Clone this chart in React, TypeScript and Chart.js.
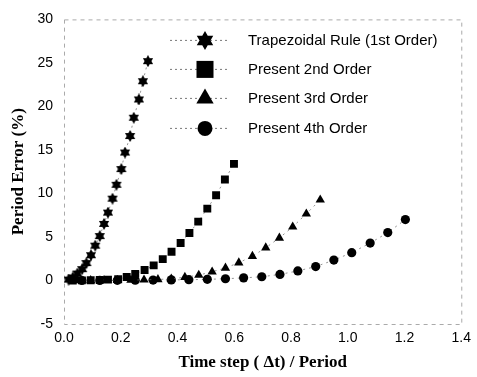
import React, { useEffect, useRef } from "react";
import { Chart, registerables } from "chart.js";

Chart.register(...registerables);

const seriesLabels = [
  "Trapezoidal Rule (1st Order)",
  "Present 2nd Order",
  "Present 3rd Order",
  "Present 4th Order",
];

const trapX = [0.016, 0.031, 0.047, 0.064, 0.079, 0.095, 0.110, 0.126, 0.141, 0.155, 0.171, 0.185, 0.202, 0.215, 0.233, 0.246, 0.264, 0.278, 0.296];
const trapY = [0.1, 0.35, 0.8, 1.3, 2.0, 2.9, 4.0, 5.1, 6.5, 7.8, 9.4, 11.0, 12.8, 14.7, 16.6, 18.7, 20.8, 22.9, 25.2];

const ord2X = [0.031, 0.063, 0.094, 0.126, 0.155, 0.191, 0.221, 0.251, 0.284, 0.316, 0.348, 0.379, 0.411, 0.442, 0.473, 0.505, 0.536, 0.567, 0.599];
const ord2Y = [0, 0.01, 0.02, 0.05, 0.1, 0.15, 0.4, 0.76, 1.2, 1.74, 2.45, 3.3, 4.3, 5.45, 6.76, 8.26, 9.8, 11.6, 13.4];

const ord3X = [0.047, 0.094, 0.141, 0.188, 0.236, 0.282, 0.331, 0.378, 0.426, 0.475, 0.522, 0.569, 0.616, 0.664, 0.711, 0.759, 0.806, 0.854, 0.903];
const ord3Y = [0, 0, 0.01, 0.02, 0.04, 0.08, 0.12, 0.18, 0.38, 0.62, 1.0, 1.44, 2.04, 2.79, 3.76, 4.89, 6.16, 7.66, 9.27];

const ord4X = [0.063, 0.126, 0.188, 0.251, 0.314, 0.378, 0.44, 0.505, 0.569, 0.633, 0.697, 0.761, 0.824, 0.887, 0.951, 1.014, 1.079, 1.141, 1.203];
const ord4Y = [0, 0.01, 0.02, 0.03, 0.05, 0.07, 0.09, 0.13, 0.2, 0.3, 0.43, 0.7, 1.1, 1.6, 2.34, 3.2, 4.3, 5.5, 7.0];

const xTitle = "Time step ( \u0394t) / Period";
const yTitle = "Period Error (%)";

function starPath(ctx: CanvasRenderingContext2D, cx: number, cy: number, R: number) {
  const r = R / Math.sqrt(3);
  ctx.beginPath();
  for (let i = 0; i < 12; i++) {
    const a = -Math.PI / 2 + (i * Math.PI) / 6;
    const rad = i % 2 === 0 ? R : r;
    const px = cx + rad * Math.cos(a);
    const py = cy + rad * Math.sin(a);
    if (i === 0) ctx.moveTo(px, py);
    else ctx.lineTo(px, py);
  }
  ctx.closePath();
}

function makeStar(size: number, R: number): HTMLCanvasElement {
  const c = document.createElement("canvas");
  c.width = size;
  c.height = size;
  const ctx = c.getContext("2d")!;
  ctx.fillStyle = "#000";
  starPath(ctx, size / 2, size / 2, R);
  ctx.fill();
  return c;
}

function drawMarker(ctx: CanvasRenderingContext2D, kind: number, x: number, y: number) {
  ctx.fillStyle = "#000";
  if (kind === 0) {
    starPath(ctx, x, y, 9.5);
    ctx.fill();
  } else if (kind === 1) {
    ctx.fillRect(x - 8.5, y - 8.5, 17, 17);
  } else if (kind === 2) {
    const r = 10;
    ctx.beginPath();
    ctx.moveTo(x, y - r);
    ctx.lineTo(x + r * 0.866, y + r * 0.5);
    ctx.lineTo(x - r * 0.866, y + r * 0.5);
    ctx.closePath();
    ctx.fill();
  } else {
    ctx.beginPath();
    ctx.arc(x, y, 7.5, 0, Math.PI * 2);
    ctx.fill();
  }
}

const framePlugin = {
  id: "frame",
  beforeDatasetsDraw(chart: any) {
    const { ctx, chartArea } = chart;
    ctx.save();
    ctx.strokeStyle = "#aaa";
    ctx.lineWidth = 1;
    ctx.setLineDash([4, 4]);
    ctx.strokeRect(chartArea.left + 0.5, chartArea.top + 0.5, chartArea.right - chartArea.left, chartArea.bottom - chartArea.top);
    ctx.restore();
  },
};

const legendPlugin = {
  id: "customLegend",
  afterDraw(chart: any) {
    const { ctx, chartArea } = chart;
    const mx = chartArea.left + 141;
    const rows = [21, 50, 79, 109];
    ctx.save();
    seriesLabels.forEach((label, i) => {
      const y = chartArea.top + rows[i];
      ctx.strokeStyle = "#555";
      ctx.lineWidth = 0.8;
      ctx.setLineDash([2, 3]);
      ctx.beginPath();
      ctx.moveTo(mx - 35, y);
      ctx.lineTo(mx + 22, y);
      ctx.stroke();
      ctx.setLineDash([]);
      drawMarker(ctx, i, mx, y);
      ctx.fillStyle = "#000";
      ctx.font = "15px 'Liberation Sans', Arial, sans-serif";
      ctx.textAlign = "left";
      ctx.textBaseline = "middle";
      ctx.fillText(label, mx + 43, y);
    });
    ctx.restore();
  },
};

function toPts(xs: number[], ys: number[]) {
  return xs.map((x, i) => ({ x, y: ys[i] }));
}

export default function App() {
  const ref = useRef<HTMLCanvasElement>(null);
  useEffect(() => {
    document.body.style.margin = "0";
    const star = makeStar(12, 5.9);
    const lineStyle = {
      showLine: true,
      borderColor: "#666",
      borderWidth: 0.7,
      borderDash: [2, 4],
      pointBackgroundColor: "#000",
      pointBorderColor: "#000",
      pointBorderWidth: 0,
    };
    const chart = new Chart(ref.current!, {
      type: "scatter",
      data: {
        datasets: [
          { label: seriesLabels[0], data: toPts(trapX, trapY), pointStyle: star as any, pointRadius: 6, ...lineStyle },
          { label: seriesLabels[1], data: toPts(ord2X, ord2Y), pointStyle: "rect", pointRadius: 5.6, ...lineStyle },
          { label: seriesLabels[2], data: toPts(ord3X, ord3Y), pointStyle: "triangle", pointRadius: 5.4, ...lineStyle },
          { label: seriesLabels[3], data: toPts(ord4X, ord4Y), pointStyle: "circle", pointRadius: 4.6, ...lineStyle },
        ],
      },
      options: {
        animation: false,
        responsive: false,
        layout: { padding: { top: 12, right: 15, left: 0, bottom: 0 } },
        plugins: { legend: { display: false }, tooltip: { enabled: false } },
        scales: {
          x: {
            type: "linear",
            min: 0,
            max: 1.4,
            afterFit: (s: any) => { s.height = 53; },
            grid: { display: false, drawTicks: false },
            border: { display: false },
            ticks: {
              stepSize: 0.2,
              padding: 6,
              color: "#000",
              font: { family: "'Liberation Sans', Arial, sans-serif", size: 14 },
              callback: (v: any) => Number(v).toFixed(1),
            },
            title: {
              display: true,
              text: xTitle,
              color: "#000",
              padding: { top: 0, bottom: 4 },
              font: { family: "'Liberation Serif', 'Times New Roman', serif", size: 17, weight: "bold" },
            },
          },
          y: {
            type: "linear",
            min: -5,
            max: 30,
            afterFit: (s: any) => { s.width = 64; },
            grid: { display: false, drawTicks: false },
            border: { display: false },
            ticks: {
              stepSize: 5,
              padding: 11,
              color: "#000",
              font: { family: "'Liberation Sans', Arial, sans-serif", size: 14 },
            },
            title: {
              display: true,
              text: yTitle,
              color: "#000",
              padding: { top: 8, bottom: 0 },
              font: { family: "'Liberation Serif', 'Times New Roman', serif", size: 17, weight: "bold" },
            },
          },
        },
      },
      plugins: [framePlugin, legendPlugin],
    });
    return () => chart.destroy();
  }, []);
  return (
    <div style={{ width: 477, height: 377, background: "#fff" }}>
      <canvas ref={ref} width={477} height={377} style={{ display: "block" }} />
    </div>
  );
}
